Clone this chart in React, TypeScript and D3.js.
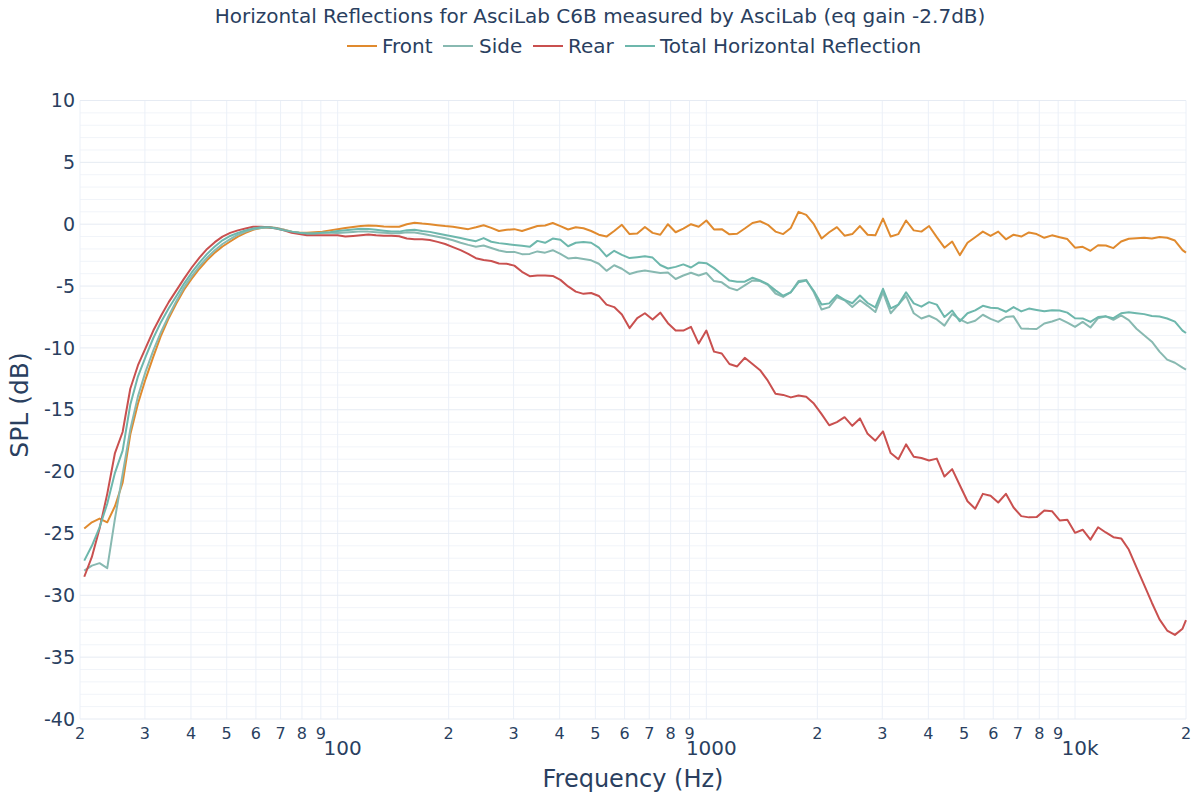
import React from 'react';
import * as d3 from 'd3';

const freqs = [
  20.54, 21.54, 22.6, 23.71, 24.88, 26.1, 27.38, 28.73, 30.14, 31.62, 33.18, 34.81, 36.52, 38.31, 40.19, 42.17, 44.24, 46.42, 48.7, 51.09, 53.6, 56.23, 59.0, 61.9, 64.94, 68.13, 71.48, 74.99, 78.67, 82.54, 86.6, 90.85, 95.32,
  100, 104.9, 110.1, 115.5, 121.2, 127.1, 133.4, 139.9, 146.8, 154.0, 161.6, 169.5, 177.8, 186.6, 195.7, 205.4, 215.4, 226.0, 237.1, 248.8, 261.0, 273.8, 287.3, 301.4, 316.2, 331.8, 348.1, 365.2, 383.1, 401.9, 421.7, 442.4, 464.2, 487.0, 510.9, 536.0, 562.3, 590.0, 619.0, 649.4, 681.3, 714.8, 749.9, 786.7, 825.4, 866.0, 908.5, 953.2,
  1000, 1049, 1101, 1155, 1212, 1271, 1334, 1399, 1468, 1540, 1616, 1695, 1778, 1866, 1957, 2054, 2154, 2260, 2371, 2488, 2610, 2738, 2873, 3014, 3162, 3318, 3481, 3652, 3831, 4019, 4217, 4424, 4642, 4870, 5109, 5360, 5623, 5900, 6190, 6494, 6813, 7148, 7499, 7867, 8254, 8660, 9085, 9532,
  10000, 10490, 11010, 11550, 12120, 12710, 13340, 13990, 14680, 15400, 16160, 16950, 17780, 18660, 19570, 20000,
];

const front = [
  -24.6, -24.1, -23.8, -24.1, -22.8, -20.9, -17.0, -14.5, -12.5, -10.7, -9.0, -7.6, -6.4, -5.3, -4.4, -3.6, -2.9, -2.3, -1.8, -1.4, -1.0, -0.7, -0.45, -0.3, -0.25, -0.3, -0.45, -0.6, -0.7, -0.7, -0.65, -0.6, -0.5,
  -0.4, -0.3, -0.22, -0.15, -0.1, -0.12, -0.18, -0.2, -0.2, 0.0, 0.12, 0.05, 0.0, -0.08, -0.15, -0.2, -0.3, -0.4, -0.25, -0.08, -0.3, -0.55, -0.45, -0.4, -0.55, -0.35, -0.15, -0.1, 0.1, -0.15, -0.43, -0.25, -0.33, -0.55, -0.85, -1.0, -0.55, -0.05, -0.8, -0.75, -0.22, -0.7, -0.85, 0.0, -0.65, -0.35, 0.0, -0.2,
  0.3, -0.42, -0.4, -0.82, -0.77, -0.35, 0.1, 0.24, -0.05, -0.6, -0.8, -0.3, 1.0, 0.75, 0.0, -1.15, -0.65, -0.24, -0.93, -0.8, -0.15, -0.85, -0.9, 0.45, -1.0, -0.8, 0.3, -0.5, -0.6, -0.15, -1.05, -1.9, -1.4, -2.5, -1.5, -1.05, -0.6, -0.95, -0.6, -1.22, -0.85, -1.0, -0.67, -0.8, -1.1, -0.9, -1.05, -1.2,
  -1.9, -1.83, -2.15, -1.7, -1.72, -1.93, -1.4, -1.18, -1.13, -1.1, -1.15, -1.03, -1.1, -1.32, -2.1, -2.3,
];

const side = [
  -28.0, -27.6, -27.4, -27.8, -23.8, -20.2, -16.6, -13.9, -11.9, -10.2, -8.7, -7.4, -6.2, -5.1, -4.2, -3.4, -2.7, -2.1, -1.6, -1.2, -0.85, -0.6, -0.4, -0.3, -0.25, -0.3, -0.45, -0.6, -0.7, -0.75, -0.75, -0.7, -0.7,
  -0.72, -0.68, -0.63, -0.58, -0.6, -0.65, -0.7, -0.74, -0.73, -0.65, -0.67, -0.78, -0.89, -1.02, -1.14, -1.3, -1.5, -1.67, -1.82, -1.72, -1.92, -2.13, -2.24, -2.24, -2.42, -2.4, -2.2, -2.3, -2.1, -2.4, -2.77, -2.72, -2.82, -2.92, -3.2, -3.77, -3.32, -3.6, -4.02, -3.85, -3.75, -3.85, -3.95, -3.9, -4.43, -4.15, -3.92, -4.15,
  -3.95, -4.6, -4.7, -5.15, -5.34, -4.95, -4.55, -4.6, -4.9, -5.6, -5.88, -5.5, -4.6, -4.5, -5.5, -6.9, -6.7, -5.9, -6.15, -6.7, -6.15, -6.6, -7.1, -5.5, -7.2, -6.5, -5.8, -7.2, -7.62, -7.4, -7.7, -8.2, -7.26, -7.7, -8.0, -7.8, -7.32, -7.65, -7.9, -7.5, -7.45, -8.43, -8.46, -8.47, -8.03, -7.87, -7.65, -7.95,
  -8.3, -7.9, -8.35, -7.6, -7.45, -7.73, -7.37, -7.75, -8.45, -8.97, -9.5, -10.3, -10.95, -11.2, -11.6, -11.75,
];

const rear = [
  -28.5, -26.9, -24.6, -21.8, -18.5, -16.8, -13.3, -11.4, -10.0, -8.6, -7.4, -6.3, -5.35, -4.4, -3.5, -2.7, -2.0, -1.45, -1.0, -0.7, -0.5, -0.35, -0.2, -0.2, -0.25, -0.35, -0.5, -0.7, -0.8, -0.9, -0.9, -0.9, -0.9,
  -0.9, -1.0, -0.95, -0.9, -0.84, -0.9, -0.94, -0.94, -0.98, -1.15, -1.21, -1.21, -1.28, -1.43, -1.6, -1.85, -2.1, -2.4, -2.75, -2.9, -2.98, -3.18, -3.2, -3.35, -3.85, -4.2, -4.15, -4.14, -4.18, -4.5, -5.03, -5.45, -5.63, -5.56, -5.8, -6.5, -6.7, -7.3, -8.4, -7.6, -7.2, -7.7, -7.15, -8.0, -8.6, -8.6, -8.3, -9.65,
  -8.6, -10.3, -10.45, -11.3, -11.5, -10.8, -11.3, -11.8, -12.65, -13.7, -13.8, -14.0, -13.85, -13.95, -14.5, -15.35, -16.25, -16.0, -15.6, -16.3, -15.7, -16.95, -17.5, -16.75, -18.5, -19.0, -17.8, -18.8, -18.9, -19.1, -18.95, -20.4, -19.8, -21.1, -22.4, -23.0, -21.8, -21.95, -22.5, -21.8, -22.9, -23.6, -23.7, -23.68, -23.15, -23.2, -23.95, -23.9,
  -24.95, -24.7, -25.5, -24.5, -24.92, -25.3, -25.4, -26.3, -27.75, -29.15, -30.6, -31.95, -32.85, -33.2, -32.7, -32.0,
];

const total = [
  -27.2, -26.0, -24.5, -22.6, -20.1, -18.3, -14.6, -12.3, -10.7, -9.2, -7.9, -6.8, -5.8, -4.8, -3.9, -3.1, -2.4, -1.8, -1.3, -0.95, -0.7, -0.5, -0.35, -0.25, -0.25, -0.35, -0.5, -0.6, -0.7, -0.75, -0.75, -0.7, -0.65,
  -0.55, -0.48, -0.42, -0.36, -0.38, -0.45, -0.52, -0.58, -0.6, -0.48, -0.45, -0.55, -0.62, -0.75, -0.88, -1.0, -1.12, -1.25, -1.37, -1.12, -1.42, -1.53, -1.6, -1.68, -1.75, -1.83, -1.35, -1.5, -1.16, -1.25, -1.78, -1.5, -1.44, -1.5, -1.9, -2.6, -2.15, -2.48, -2.74, -2.67, -2.6, -2.7, -3.3, -3.58, -3.45, -3.25, -3.5, -3.1,
  -3.15, -3.55, -4.05, -4.56, -4.65, -4.65, -4.33, -4.55, -4.85, -5.35, -5.78, -5.5, -4.7, -4.55, -5.4, -6.5, -6.4, -5.73, -6.12, -6.39, -5.76, -6.37, -6.73, -5.22, -6.8, -6.5, -5.5, -6.4, -6.67, -6.3, -6.5, -7.5, -6.98, -7.85, -7.2, -6.97, -6.6, -6.75, -6.8, -7.08, -6.7, -7.05, -6.82, -6.93, -7.03, -6.95, -6.97, -7.15,
  -7.6, -7.62, -7.9, -7.5, -7.45, -7.6, -7.2, -7.12, -7.2, -7.27, -7.42, -7.46, -7.62, -7.88, -8.6, -8.8,
];

const seriesNames = ['Front', 'Side', 'Rear', 'Total Horizontal Reflection'];
const seriesValues = [front, side, rear, total];
const seriesColors = ['#e08a2e', '#88b9b1', '#c9504f', '#6db7ac'];

const yTicks = [10, 5, 0, -5, -10, -15, -20, -25, -30, -35, -40];
const xMinorTicks = [20, 30, 40, 50, 60, 70, 80, 90, 200, 300, 400, 500, 600, 700, 800, 900, 2000, 3000, 4000, 5000, 6000, 7000, 8000, 9000, 20000];
const xMinorLabels = ['2', '3', '4', '5', '6', '7', '8', '9', '2', '3', '4', '5', '6', '7', '8', '9', '2', '3', '4', '5', '6', '7', '8', '9', '2'];
const xMajorTicks = [100, 1000, 10000];
const xMajorLabels = ['100', '1000', '10k'];

const title = 'Horizontal Reflections for AsciLab C6B measured by AsciLab (eq gain -2.7dB)';
const xTitle = 'Frequency (Hz)';
const yTitle = 'SPL (dB)';

const FONT = "'DejaVu Sans', Verdana, sans-serif";
const TEXT = '#2a3f5f';

export default function App() {
  const W = 1200;
  const H = 800;
  const left = 80;
  const right = 1186;
  const top = 100.5;
  const bottom = 719;

  const x = d3.scaleLog().domain([20, 20000]).range([left, right]);
  const y = d3.scaleLinear().domain([-40, 10]).range([bottom, top]);

  const line = d3
    .line<number>()
    .x((_, i) => x(freqs[i]))
    .y((d) => y(d));

  const yMinor = d3.range(-40, 11, 1).filter((v) => v % 5 !== 0);

  const legendLayout = [
    { lx: 347, tx: 382 },
    { lx: 443, tx: 479 },
    { lx: 533, tx: 568 },
    { lx: 625, tx: 660 },
  ];

  return (
    <svg
      width={W}
      height={H}
      style={{ position: 'absolute', left: 0, top: 0, background: '#fff' }}
      fontFamily={FONT}
    >
      <rect x={0} y={0} width={W} height={H} fill="#fff" />
      <defs>
        <clipPath id="plotclip">
          <rect x={left} y={top - 2} width={right - left + 2} height={bottom - top + 4} />
        </clipPath>
      </defs>
      <g>
        {yMinor.map((v) => (
          <line key={'ym' + v} x1={left} x2={right} y1={y(v)} y2={y(v)} stroke="#f1f4f9" strokeWidth={1} />
        ))}
        {xMinorTicks.concat(xMajorTicks).map((v) => (
          <line key={'xg' + v} x1={x(v)} x2={x(v)} y1={top} y2={bottom} stroke="#ebf0f8" strokeWidth={1} />
        ))}
        {yTicks.map((v) => (
          <line key={'yg' + v} x1={left} x2={right} y1={y(v)} y2={y(v)} stroke="#e6ebf3" strokeWidth={1} />
        ))}
      </g>
      <g clipPath="url(#plotclip)">
        {seriesValues.map((vals, i) => (
          <path
            key={seriesNames[i]}
            d={line(vals) || ''}
            fill="none"
            stroke={seriesColors[i]}
            strokeWidth={2}
            strokeLinejoin="round"
          />
        ))}
      </g>
      {yTicks.map((v) => (
        <text key={'yl' + v} x={75} y={y(v)} dy="0.35em" textAnchor="end" fontSize={19} fill={TEXT}>
          {v}
        </text>
      ))}
      {xMinorTicks.map((v, i) => (
        <text key={'xl' + v} x={x(v)} y={739} textAnchor="middle" fontSize={16} fill={TEXT}>
          {xMinorLabels[i]}
        </text>
      ))}
      {xMajorTicks.map((v, i) => (
        <text key={'xM' + v} x={x(v) + 5} y={755} textAnchor="middle" fontSize={20} fill={TEXT}>
          {xMajorLabels[i]}
        </text>
      ))}
      <text x={(left + right) / 2} y={787} textAnchor="middle" fontSize={24} fill={TEXT}>
        {xTitle}
      </text>
      <text
        transform={`translate(28,${405}) rotate(-90)`}
        textAnchor="middle"
        fontSize={25}
        fill={TEXT}
      >
        {yTitle}
      </text>
      <text x={600} y={23} textAnchor="middle" fontSize={20} fill={TEXT}>
        {title}
      </text>
      {seriesNames.map((n, i) => (
        <g key={'lg' + n}>
          <line
            x1={legendLayout[i].lx}
            x2={legendLayout[i].lx + 30}
            y1={46}
            y2={46}
            stroke={seriesColors[i]}
            strokeWidth={2}
          />
          <text x={legendLayout[i].tx} y={46} dy="0.35em" fontSize={20} fill={TEXT}>
            {n}
          </text>
        </g>
      ))}
    </svg>
  );
}
